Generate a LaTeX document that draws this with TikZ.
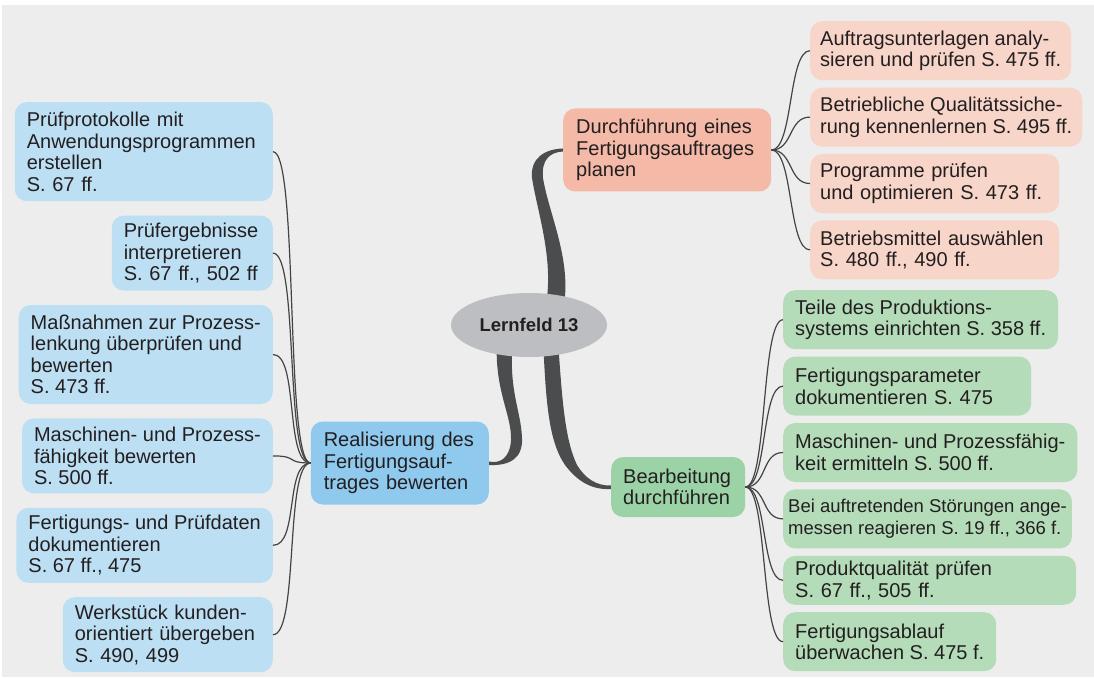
\documentclass[tikz,border=0pt]{standalone}
\usepackage{fontspec}
\setmainfont{Liberation Sans}
\usetikzlibrary{calc,positioning,shapes.geometric}
\pgfdeclarelayer{background}
\pgfsetlayers{background,main}

\definecolor{bgGray}{HTML}{EDEDED}
\definecolor{txtDark}{HTML}{231F20}
\definecolor{rootGray}{HTML}{BDBEC2}
\definecolor{branchGray}{HTML}{4B4C4E}
\definecolor{linkGray}{HTML}{444444}
\definecolor{planMain}{HTML}{F4B9A7}
\definecolor{planSub}{HTML}{F8D5C9}
\definecolor{realMain}{HTML}{8FCAEE}
\definecolor{realSub}{HTML}{BCDFF4}
\definecolor{bearbMain}{HTML}{9BD3A6}
\definecolor{bearbSub}{HTML}{B4DCB9}

\begin{document}
\begin{tikzpicture}[
			x=1pt, y=-1pt,
			box/.style={rectangle, rounded corners=12pt, align=left, text=txtDark, font=\fontsize{20}{21.5}\selectfont, inner xsep=12pt, inner ysep=4pt},
			planbox/.style={box, fill=planSub, inner xsep=10pt, minimum height=59pt},
			realbox/.style={box, fill=realSub},
			bearbbox/.style={box, fill=bearbSub, minimum height=59pt},
			link/.style={draw=linkGray, line width=1.2pt},
			branch/.style={fill=branchGray}
		]
		\useasboundingbox (0,0) rectangle (1094,679);

		% Zentrum
		\node (lernfeld) [ellipse, fill=rootGray, minimum width=156pt, minimum height=64pt, inner sep=0pt, text=txtDark, font=\fontsize{18.5}{20}\selectfont\bfseries] at (529,325) {Lernfeld 13};

		% Hauptaeste
		\node (plan) [box, fill=planMain, inner xsep=13pt, text width=182pt, minimum height=83pt, anchor=west] at (563,150) {Durchführung eines\\Fertigungsauftrages\\planen};
		\node (real) [box, fill=realMain, inner xsep=13pt, text width=152pt, minimum height=83pt, anchor=east] at (489,463) {Realisierung des\\Fertigungsauf-\\trages bewerten};
		\node (bearb) [box, fill=bearbMain, text width=110pt, minimum height=60pt, anchor=west] at (611,487) {Bearbeitung\\durchführen};

		% Planen
		\node (plan1) [planbox, anchor=north west] at (810,21) {Auftragsunterlagen analy-\\sieren und prüfen S. 475 ff.};
		\node (plan2) [planbox, below=7pt of plan1.south west, anchor=north west] {Betriebliche Qualitätssiche-\\rung kennenlernen S. 495 ff.};
		\node (plan3) [planbox, text width=229pt, below=7pt of plan2.south west, anchor=north west] {Programme prüfen\\und optimieren S. 473 ff.};
		\node (plan4) [planbox, text width=229pt, below=7pt of plan3.south west, anchor=north west] {Betriebsmittel auswählen\\S. 480 ff., 490 ff.};

		% Realisierung
		\node (real1) [realbox, text width=234pt, minimum height=99pt, anchor=north east] at (273,102) {Prüfprotokolle mit\\Anwendungsprogrammen\\erstellen\\S. 67 ff.};
		\node (real2) [realbox, text width=137pt, minimum height=75pt, below=14pt of real1.south east, anchor=north east] {Prüfergebnisse\\interpretieren\\S. 67 ff., 502 ff};
		\node (real3) [realbox, minimum height=99pt, below=14pt of real2.south east, anchor=north east] {Maßnahmen zur Prozess-\\lenkung überprüfen und\\bewerten\\S. 473 ff.};
		\node (real4) [realbox, minimum height=75pt, below=14pt of real3.south east, anchor=north east] {Maschinen- und Prozess-\\fähigkeit bewerten\\S. 500 ff.};
		\node (real5) [realbox, minimum height=75pt, below=14pt of real4.south east, anchor=north east] {Fertigungs- und Prüfdaten\\dokumentieren\\S. 67 ff., 475};
		\node (real6) [realbox, text width=186pt, minimum height=75pt, below=14pt of real5.south east, anchor=north east] {Werkstück kunden-\\orientiert übergeben\\S. 490, 499};

		% Bearbeitung
		\node (bearb1) [bearbbox, anchor=north west] at (783,290) {Teile des Produktions-\\systems einrichten S. 358 ff.};
		\node (bearb2) [bearbbox, text width=224pt, below=7pt of bearb1.south west, anchor=north west] {Fertigungsparameter\\dokumentieren S. 475};
		\node (bearb3) [bearbbox, below=7pt of bearb2.south west, anchor=north west] {Maschinen- und Prozessfähig-\\keit ermitteln S. 500 ff.};
		\node (bearb4) [bearbbox, inner xsep=5pt, font=\fontsize{18.5}{21.5}\selectfont, below=7pt of bearb3.south west, anchor=north west] {Bei auftretenden Störungen ange-\\messen reagieren S. 19 ff., 366 f.};
		\node (bearb5) [bearbbox, text width=269pt, minimum height=49pt, inner ysep=2pt, below=7pt of bearb4.south west, anchor=north west] {Produktqualität prüfen\\S. 67 ff., 505 ff.};
		\node (bearb6) [bearbbox, below=7pt of bearb5.south west, anchor=north west] {Fertigungsablauf\\überwachen S. 475 f.};

		% Verbindungen
		\foreach \n in {plan1,plan2,plan3,plan4}
			\draw [link] (plan.east) .. controls +(22,0) and +(-22,0) .. (\n.west);
		\foreach \n in {real1,real2,real3,real4,real5,real6}
			\draw [link] (real.west) .. controls +(-26,0) and +(26,0) .. (\n.east);
		\foreach \n in {bearb1,bearb2,bearb3,bearb4,bearb5,bearb6}
			\draw [link] (bearb.east) .. controls +(22,0) and +(-22,0) .. (\n.west);

		\begin{pgfonlayer}{background}
			\fill [bgGray] (2,5) rectangle (1094,677);
			% Aeste vom Zentrum
			\fill [branch] (545,310) .. controls (555,262) and (538,215) .. (532,178)
				.. controls (530,158) and (545,149) .. ($(plan.west)+(0,-1.5)$)
				-- ($(plan.west)+(0,1.5)$) .. controls (550,152) and (541,160) .. (543,178)
				.. controls (549,215) and (573,262) .. (563,310) -- cycle;
			\fill [branch] (497,340) .. controls (494,390) and (512,415) .. (511,440)
				.. controls (510,458) and (500,464) .. ($(real.east)+(0,-1.5)$)
				-- ($(real.east)+(0,2)$) .. controls (510,466) and (523,458) .. (522,438)
				.. controls (521,410) and (508,390) .. (513,340) -- cycle;
			\fill [branch] (543,340) .. controls (546,400) and (548,440) .. (565,465)
				.. controls (578,482) and (592,490) .. ($(bearb.west)+(0,2)$)
				-- ($(bearb.west)+(0,-1.5)$) .. controls (596,486) and (585,478) .. (577,465)
				.. controls (565,440) and (562,400) .. (558,340) -- cycle;
		\end{pgfonlayer}
	\end{tikzpicture}
\end{document}
